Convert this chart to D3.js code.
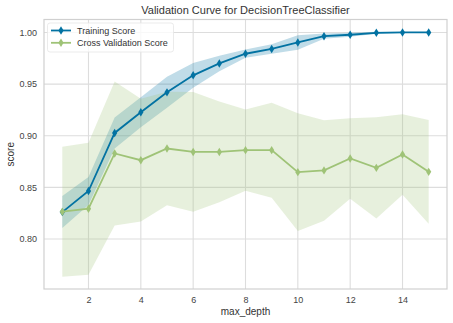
<!DOCTYPE html>
<html>
<head>
<meta charset="utf-8">
<script src="https://cdn.jsdelivr.net/npm/d3@7"></script>
<style>
  html, body { margin: 0; padding: 0; background: #fff; }
  svg { display: block; font-family: "Liberation Sans", Arial, sans-serif; }
</style>
</head>
<body>
<svg id="chart" width="453" height="323"></svg>
<script>
const depths = [1, 2, 3, 4, 5, 6, 7, 8, 9, 10, 11, 12, 13, 14, 15];
const trainMean = [0.826, 0.8464, 0.9027, 0.9227, 0.942, 0.9585, 0.970, 0.9794, 0.984, 0.9903, 0.9964, 0.9978, 0.9997, 1.000, 1.000];
const trainStd = [0.0155, 0.0135, 0.015, 0.0145, 0.015, 0.012, 0.0075, 0.004, 0.0045, 0.007, 0.0025, 0.002, 0.001, 0.0005, 0.0];
const cvMean = [0.8264, 0.8293, 0.8828, 0.8763, 0.8876, 0.8843, 0.8843, 0.886, 0.886, 0.8647, 0.8664, 0.878, 0.8689, 0.8818, 0.865];
const cvStd = [0.063, 0.064, 0.0697, 0.0595, 0.055, 0.058, 0.0488, 0.0393, 0.046, 0.057, 0.0487, 0.039, 0.049, 0.039, 0.0503];
const xTicks = [2, 4, 6, 8, 10, 12, 14];
const yTicks = [0.80, 0.85, 0.90, 0.95, 1.00];
const seriesNames = ["Training Score", "Cross Validation Score"];
const colors = ["#0272a2", "#9fc377"];

(function () {
const svg = d3.select("#chart");
const mL = 44, mR = 447, mT = 19.5, mB = 289;

const lowers = [...trainMean.map((m, i) => m - trainStd[i]), ...cvMean.map((m, i) => m - cvStd[i])];
const uppers = [...trainMean.map((m, i) => m + trainStd[i]), ...cvMean.map((m, i) => m + cvStd[i])];
const yMin = d3.min(lowers), yMax = d3.max(uppers);
const yPad = (yMax - yMin) * 0.05;
const xMin = d3.min(depths), xMax = d3.max(depths);
const xPad = (xMax - xMin) * 0.05;

const x = d3.scaleLinear().domain([xMin - xPad, xMax + xPad]).range([mL, mR]);
const y = d3.scaleLinear().domain([yMin - yPad, yMax + yPad]).range([mB, mT]);

// grid
const grid = svg.append("g");
grid.selectAll("line.gx").data(xTicks).join("line").attr("class", "gx")
  .attr("x1", d => x(d)).attr("x2", d => x(d)).attr("y1", mT).attr("y2", mB)
  .attr("stroke", "#dddddd").attr("stroke-width", 1.1);
grid.selectAll("line.gy").data(yTicks).join("line").attr("class", "gy")
  .attr("y1", d => y(d)).attr("y2", d => y(d)).attr("x1", mL).attr("x2", mR)
  .attr("stroke", "#dddddd").attr("stroke-width", 1.1);

// axes via d3 axis (labels only)
const xAxis = svg.append("g").attr("transform", `translate(0,${mB})`)
  .call(d3.axisBottom(x).tickValues(xTicks).tickSize(0).tickPadding(8).tickFormat(d3.format("d")));
const yAxis = svg.append("g").attr("transform", `translate(${mL},0)`)
  .call(d3.axisLeft(y).tickValues(yTicks).tickSize(0).tickPadding(7).tickFormat(d3.format(".2f")));
[xAxis, yAxis].forEach(g => {
  g.select(".domain").remove();
  g.selectAll("text").attr("font-size", 9).attr("fill", "#444")
    .attr("font-family", "'Liberation Sans', Arial, sans-serif");
});

// bands
const series = [
  {mean: trainMean, std: trainStd, color: colors[0]},
  {mean: cvMean, std: cvStd, color: colors[1]}
];
const area = d3.area()
  .x(d => x(d.x)).y0(d => y(d.lo)).y1(d => y(d.hi));
series.forEach(s => {
  const pts = depths.map((d, i) => ({x: d, lo: s.mean[i] - s.std[i], hi: s.mean[i] + s.std[i]}));
  svg.append("path").datum(pts).attr("d", area)
    .attr("fill", s.color).attr("fill-opacity", 0.25).attr("stroke", "none");
});

// lines and markers
const line = d3.line().x(d => x(d.x)).y(d => y(d.y));
const diamond = (cx, cy, w, h) => `M${cx},${cy - h}L${cx + w},${cy}L${cx},${cy + h}L${cx - w},${cy}Z`;
series.forEach(s => {
  const pts = depths.map((d, i) => ({x: d, y: s.mean[i]}));
  svg.append("path").datum(pts).attr("d", line)
    .attr("fill", "none").attr("stroke", s.color).attr("stroke-width", 1.8);
  svg.append("g").selectAll("path").data(pts).join("path")
    .attr("d", d => diamond(x(d.x), y(d.y), 2.6, 4.2))
    .attr("fill", s.color);
});

// frame
svg.append("rect").attr("x", mL).attr("y", mT)
  .attr("width", mR - mL).attr("height", mB - mT)
  .attr("fill", "none").attr("stroke", "#d0d0d0").attr("stroke-width", 1.2);

// legend
const lg = svg.append("g");
lg.append("rect").attr("x", 47.5).attr("y", 23).attr("width", 126).attr("height", 29)
  .attr("rx", 2.5).attr("fill", "#fff").attr("fill-opacity", 0.8)
  .attr("stroke", "#e6e6e6").attr("stroke-width", 0.8);
seriesNames.forEach((name, i) => {
  const ly = 30.5 + i * 12.3;
  lg.append("line").attr("x1", 51).attr("x2", 71).attr("y1", ly).attr("y2", ly)
    .attr("stroke", colors[i]).attr("stroke-width", 1.8);
  lg.append("path").attr("d", diamond(61, ly, 2.6, 4.2)).attr("fill", colors[i]);
  lg.append("text").attr("x", 77).attr("y", ly + 3.2).attr("font-size", 9).attr("fill", "#333")
    .text(name);
});

// titles
svg.append("text").attr("x", (mL + mR) / 2).attr("y", 13.5)
  .attr("text-anchor", "middle").attr("font-size", 11).attr("fill", "#333")
  .text("Validation Curve for DecisionTreeClassifier");
svg.append("text").attr("x", (mL + mR) / 2).attr("y", 315)
  .attr("text-anchor", "middle").attr("font-size", 10).attr("fill", "#333")
  .text("max_depth");
svg.append("text").attr("transform", `translate(13.5,${(mT + mB) / 2}) rotate(-90)`)
  .attr("text-anchor", "middle").attr("font-size", 10).attr("fill", "#333")
  .text("score");
})();
</script>
</body>
</html>
